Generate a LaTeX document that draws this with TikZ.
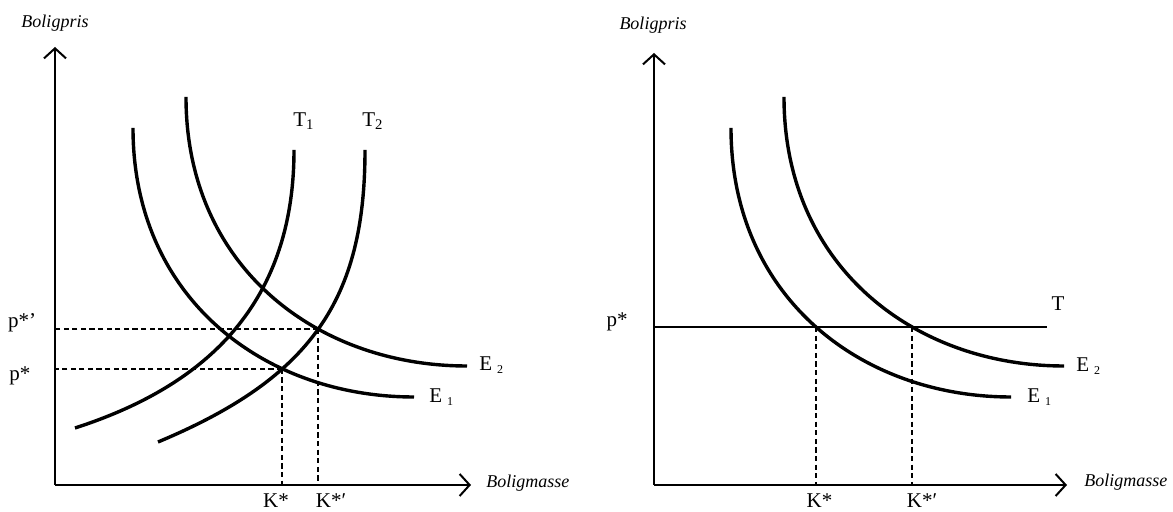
\documentclass[tikz,border=0pt]{standalone}
\usepackage{fontspec}
\setmainfont{Liberation Serif}
\usetikzlibrary{arrows.meta,intersections}

\newcommand{\esub}[1]{E\hspace{2.5pt}\raisebox{-1.2pt}{\fontsize{6}{7}\selectfont #1}}

\begin{document}
\begin{tikzpicture}[x=0.5pt,y=0.5pt,
	akse/.style={line width=1pt,-{Straight Barb[length=5pt,width=11pt,line width=1pt]}},
	kurve/.style={line width=1.7pt},
	hjelp/.style={line width=0.95pt,dash pattern=on 2.6pt off 1.7pt},
	akselabel/.style={font=\fontsize{9}{11}\selectfont\itshape,inner sep=0pt},
	lab/.style={font=\fontsize{10.5}{12}\selectfont,inner sep=0pt}]
	\useasboundingbox (-55,-27) rectangle (1118,485);

	% venstre figur: to tilbudskurver
	\coordinate (o1) at (0,0);
	\coordinate (y1) at (0,438);
	\coordinate (x1) at (416,0);
	\draw [akse] (o1) -- (y1);
	\draw [akse] (o1) -- (x1);
	\node [akselabel] (pris1) at (0,462) {Boligpris};
	\node [akselabel,anchor=west] (masse1) at (431,2) {Boligmasse};

	\draw [kurve,name path=e1] (78,357) .. controls (78,187) and (209,88) .. (359,88);
	\draw [kurve,name path=e2] (131,388) .. controls (131,218) and (262,119) .. (412,119);
	\draw [kurve,name path=t1] (20,57) .. controls (144,97) and (239,175) .. (239,335);
	\draw [kurve,name path=t2] (103,43) .. controls (256,107) and (310,185) .. (310,335);

	\path [name intersections={of=t2 and e1,by=a1}];
	\path [name intersections={of=t2 and e2,by=b1}];
	\draw [hjelp] (a1) -- (a1 -| o1);
	\draw [hjelp] (a1) -- (a1 |- o1);
	\draw [hjelp] (b1) -- (b1 -| o1);
	\draw [hjelp] (b1) -- (b1 |- o1);

	\node [lab] (tl1) at (249,364) {T\textsubscript{1}};
	\node [lab] (tl2) at (318,364) {T\textsubscript{2}};
	\node [lab,anchor=west] (el1) at (374,88) {\esub{1}};
	\node [lab,anchor=west] (el2) at (424,120) {\esub{2}};
	\node [lab] (pa1) at (-33,162) {p*’};
	\node [lab] (pb1) at (-35,109) {p*};
	\node [lab] (ka1) at (221,-16) {K*};
	\node [lab] (kb1) at (276,-16) {K*′};

	% hoyre figur: horisontal tilbudskurve
	\begin{scope}[shift={(599,0)}]
		\coordinate (o2) at (0,0);
		\coordinate (y2) at (0,432);
		\coordinate (x2) at (413,0);
		\draw [akse] (o2) -- (y2);
		\draw [akse] (o2) -- (x2);
		\node [akselabel] (pris2) at (-1,460) {Boligpris};
		\node [akselabel,anchor=west] (masse2) at (430,2.5) {Boligmasse};

		\draw [kurve,name path=e1r] (77,357) .. controls (77,187) and (208,88) .. (357,88);
		\draw [kurve,name path=e2r] (130,388) .. controls (130,218) and (261,119) .. (410,119);
		\coordinate (ts) at (0,158);
		\coordinate (te) at (393,158);
		\draw [line width=1pt,name path=tr] (ts) -- (te);

		\path [name intersections={of=tr and e1r,by=a2}];
		\path [name intersections={of=tr and e2r,by=b2}];
		\draw [hjelp] (a2) -- (a2 |- o2);
		\draw [hjelp] (b2) -- (b2 |- o2);

		\node [lab] (tl) at (404,181) {T};
		\node [lab,anchor=west] (el1r) at (373,88) {\esub{1}};
		\node [lab,anchor=west] (el2r) at (422,119) {\esub{2}};
		\node [lab] (pa2) at (-37,163) {p*};
		\node [lab] (ka2) at (165.5,-16) {K*};
		\node [lab] (kb2) at (268,-16) {K*′};
	\end{scope}
\end{tikzpicture}
\end{document}
